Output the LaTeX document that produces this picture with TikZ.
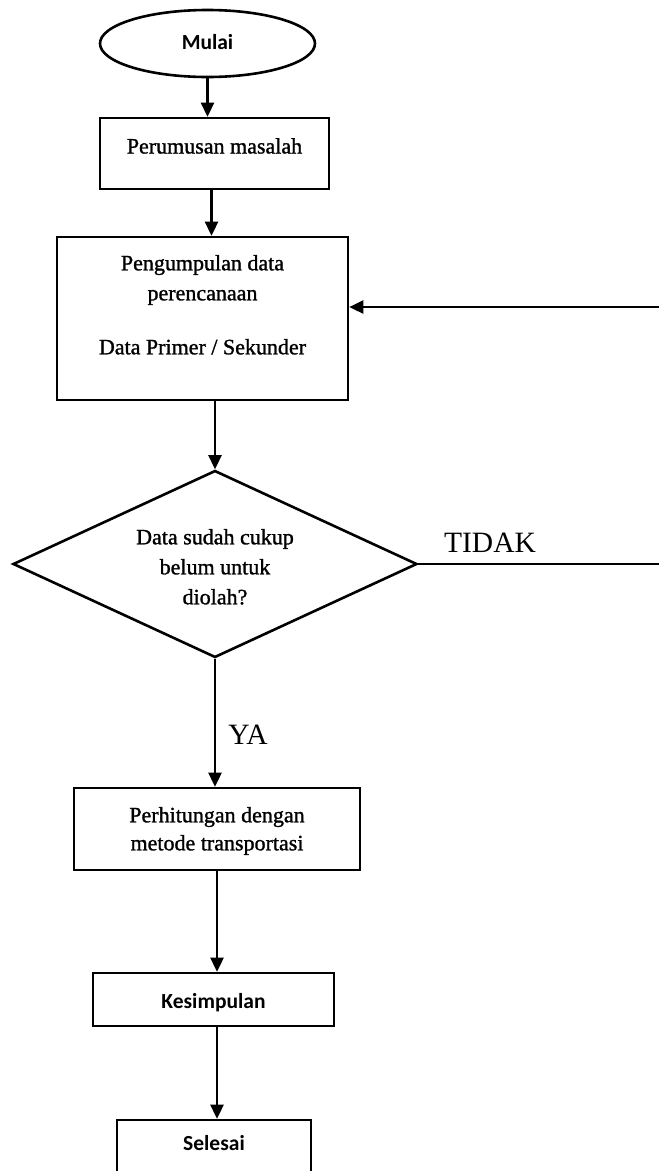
\documentclass[tikz,border=0pt]{standalone}
\usepackage{fontspec}
\setmainfont{Liberation Serif}[FakeBold=1.2]
\newfontfamily\serif{Liberation Serif}[AutoFakeBold=1.2]
\newfontfamily\calibri{Carlito}
\usetikzlibrary{shapes.geometric,arrows.meta}

\begin{document}
\begin{tikzpicture}[x=1pt, y=-1pt,
	garis/.style={line width=2.6pt},
	panah/.style={line width=2.6pt, -{Triangle[width=13pt,length=14pt]}},
	kotak/.style={draw, line width=2.6pt, rectangle, inner sep=0pt, align=center,
		font=\serif\bfseries\fontsize{22}{30}\selectfont},
	kotakc/.style={kotak, font=\calibri\bfseries\fontsize{21.5}{26}\selectfont},
	terminal/.style={draw, line width=2.6pt, ellipse, inner sep=0pt,
		font=\calibri\bfseries\fontsize{21.5}{26}\selectfont},
	keputusan/.style={draw, line width=2.6pt, diamond, aspect=2.16, inner sep=0pt,
		align=center, font=\serif\bfseries\fontsize{22}{30}\selectfont},
	tanda/.style={inner sep=0pt, font=\serif\fontsize{29.5}{34}\selectfont}]
	\useasboundingbox (0,0) rectangle (659,1171);
	
	\coordinate (kananA) at (659,307);
	\coordinate (kananB) at (659,564);
	
	\node[terminal, minimum width=215pt, minimum height=67pt, text height=14pt, text depth=1.2pt]
		(mulai) at (207.5,43.5) {Mulai};
	\node[kotak, minimum width=229pt, minimum height=71pt, text height=10pt, text depth=10pt]
		(rumus) at (214.5,153.5) {Perumusan masalah};
	\node[kotak, minimum width=291pt, minimum height=163pt, text height=71.6pt, text depth=0pt]
		(kumpul) at (202.5,318.5) {Pengumpulan data\\perencanaan\\[24pt]Data Primer / Sekunder};
	\node[keputusan, minimum width=404pt, minimum height=187pt, text height=80.6pt, text depth=0pt]
		(cek) at (215,564) {Data sudah cukup\\belum untuk\\diolah?};
	\node[kotak, font=\serif\bfseries\fontsize{22}{28}\selectfont, minimum width=286pt,
		minimum height=82pt, text height=42.6pt, text depth=0pt]
		(hitung) at (217,829) {Perhitungan dengan\\metode transportasi};
	\node[kotakc, minimum width=241pt, minimum height=53pt, text height=18.8pt, text depth=0pt]
		(simpul) at (213.5,999.5) {Kesimpulan};
	\node[kotakc, minimum width=194pt, minimum height=70pt, text height=10pt, text depth=20pt]
		(selesai) at (214,1155) {Selesai};
	
	\node[tanda] (tidak) at (490,543) {TIDAK};
	\node[tanda] (ya) at (248,735) {YA};
	
	\draw[panah] (mulai.south) -- (mulai.south |- rumus.north);
	\draw[panah] ([xshift=-3pt]rumus.south) -- ([xshift=-3pt]rumus.south |- kumpul.north);
	\draw[panah] (cek.north |- kumpul.south) -- (cek.north);
	\draw[panah] (cek.south) -- (cek.south |- hitung.north);
	\draw[panah] (hitung.south) -- (hitung.south |- simpul.north);
	\draw[panah] (hitung.south |- simpul.south) -- (hitung.south |- selesai.north);
	
	\draw[garis] (cek.east) -- (kananB);
	\draw[panah] (kananA) -- (kananA -| kumpul.east);
\end{tikzpicture}
\end{document}
